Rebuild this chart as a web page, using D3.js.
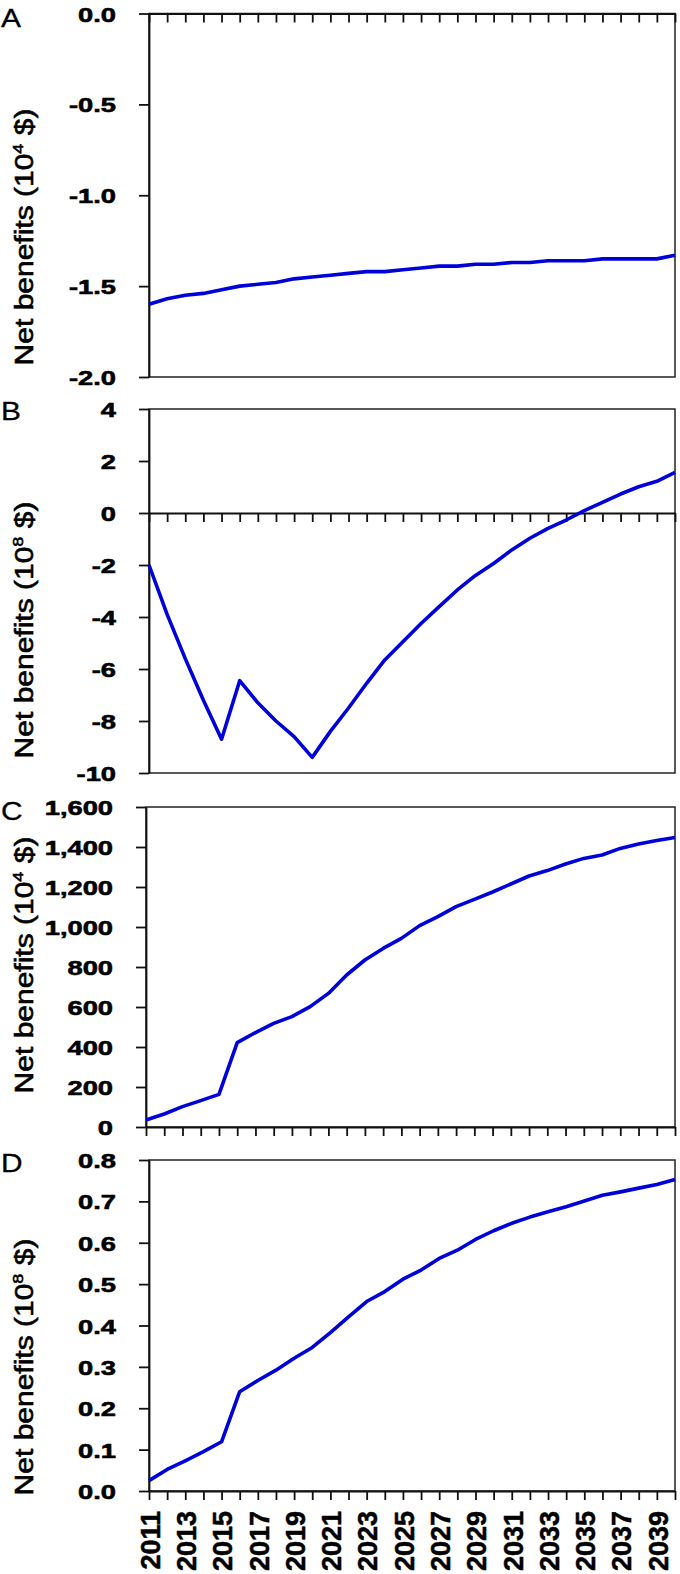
<!DOCTYPE html>
<html>
<head>
<meta charset="utf-8">
<script src="https://cdn.jsdelivr.net/npm/d3@7"></script>
<style>
  body { margin: 0; background: #fff; }
  svg { display: block; font-family: "Liberation Sans", Arial, sans-serif; }
</style>
</head>
<body>
<div id="chart"></div>
<script>
const years = d3.range(2011, 2041);

// Panel A: net benefits (10^4 $)
const seriesA = [-1.60, -1.57, -1.55, -1.54, -1.52, -1.50, -1.49, -1.48, -1.46, -1.45,
  -1.44, -1.43, -1.42, -1.42, -1.41, -1.40, -1.39, -1.39, -1.38, -1.38,
  -1.37, -1.37, -1.36, -1.36, -1.36, -1.35, -1.35, -1.35, -1.35, -1.33];
// Panel B: net benefits (10^8 $)
const seriesB = [-2.0, -3.9, -5.6, -7.2, -8.7, -6.45, -7.3, -8.0, -8.6, -9.4,
  -8.4, -7.5, -6.55, -5.65, -4.95, -4.25, -3.6, -2.96, -2.4, -1.94,
  -1.42, -0.97, -0.59, -0.27, 0.09, 0.41, 0.73, 1.01, 1.22, 1.56];
// Panel C: net benefits (10^4 $)
const seriesC = [35, 65, 102, 132, 163, 422, 472, 518, 552, 602,
  668, 760, 835, 893, 943, 1007, 1052, 1102, 1138, 1175,
  1215, 1255, 1282, 1315, 1343, 1360, 1393, 1415, 1432, 1448];
// Panel D: net benefits (10^8 $)
const seriesD = [0.025, 0.052, 0.073, 0.095, 0.119, 0.240, 0.267, 0.292, 0.321, 0.347,
  0.383, 0.421, 0.458, 0.482, 0.512, 0.534, 0.562, 0.582, 0.608, 0.629,
  0.647, 0.662, 0.675, 0.687, 0.701, 0.715, 0.723, 0.732, 0.741, 0.753];

const ticksA = [0, -0.5, -1.0, -1.5, -2.0];
const ticksB = [4, 2, 0, -2, -4, -6, -8, -10];
const ticksC = [0, 200, 400, 600, 800, 1000, 1200, 1400, 1600];
const ticksD = [0, 0.1, 0.2, 0.3, 0.4, 0.5, 0.6, 0.7, 0.8];

const loc = d3.formatLocale({ decimal: '.', thousands: ',', grouping: [3], currency: ['$', ''], minus: '-' });

const panels = [
  { letter: 'A', data: seriesA, domain: [-2, 0], ticks: ticksA, fmt: loc.format('.1f'), exp: '4',
    top: 13.5, bottom: 377, left: 149, letterY: 27, labelY: 237 },
  { letter: 'B', data: seriesB, domain: [-10, 4], ticks: ticksB, fmt: loc.format('d'), exp: '8',
    top: 409, bottom: 773, left: 149, letterY: 420, labelY: 630 },
  { letter: 'C', data: seriesC, domain: [0, 1600], ticks: ticksC, fmt: loc.format(','), exp: '4',
    top: 807, bottom: 1127, left: 146, letterY: 820, labelY: 965 },
  { letter: 'D', data: seriesD, domain: [0, 0.8], ticks: ticksD, fmt: loc.format('.1f'), exp: '8',
    top: 1160, bottom: 1491, left: 149, letterY: 1172, labelY: 1367, yearAxis: true },
];

const W = 680, H = 1574, right = 675;
const blue = '#0000d8';

const svg = d3.select('#chart').append('svg')
  .attr('width', W)
  .attr('height', H);

panels.forEach(p => {
  const x = d3.scaleLinear().domain([2011, 2040]).range([p.left, right]);
  const y = d3.scaleLinear().domain(p.domain).range([p.bottom, p.top]);

  // plot box
  svg.append('rect')
    .attr('x', p.left).attr('y', p.top)
    .attr('width', right - p.left).attr('height', p.bottom - p.top)
    .attr('fill', 'none')
    .attr('stroke', '#222')
    .attr('stroke-width', 1.5);

  // y axis
  const gy = svg.append('g')
    .attr('transform', `translate(${p.left},0)`)
    .call(d3.axisLeft(y).tickValues(p.ticks).tickFormat(p.fmt).tickSize(10).tickSizeOuter(0));
  gy.select('.domain').attr('stroke', '#111').attr('stroke-width', 1.8);
  gy.selectAll('.tick line').attr('stroke', '#111').attr('stroke-width', 1.8);
  gy.selectAll('.tick text')
    .attr('x', 0)
    .attr('dy', '0.36em')
    .attr('transform', 'translate(-33,0) scale(1.3,1)')
    .attr('font-size', 21)
    .attr('font-weight', 'bold')
    .attr('fill', '#000')
    .attr('stroke', '#000')
    .attr('stroke-width', 0.6)
    .attr('font-family', '"Liberation Sans", Arial, sans-serif');

  // x axis at zero (or bottom edge)
  const x0 = y(Math.max(p.domain[0], Math.min(0, p.domain[1])));
  const gx = svg.append('g')
    .attr('transform', `translate(0,${x0})`)
    .call(d3.axisBottom(x).tickValues(years).tickSize(9).tickSizeOuter(0)
      .tickFormat(d => (p.yearAxis && d % 2 === 1) ? d : ''));
  gx.select('.domain').attr('stroke', '#111').attr('stroke-width', 1.8);
  gx.selectAll('.tick line').attr('stroke', '#111').attr('stroke-width', 1.8);
  gx.selectAll('.tick text')
    .attr('transform', 'rotate(-90)')
    .attr('x', -20)
    .attr('y', 0)
    .attr('dy', '0.38em')
    .attr('text-anchor', 'end')
    .attr('font-size', 27)
    .attr('font-weight', 'bold')
    .attr('fill', '#000')
    .attr('stroke', '#000')
    .attr('stroke-width', 0.5)
    .attr('font-family', '"Liberation Sans", Arial, sans-serif');

  // series line
  svg.append('path')
    .datum(p.data)
    .attr('fill', 'none')
    .attr('stroke', blue)
    .attr('stroke-width', 3.6)
    .attr('stroke-linejoin', 'round')
    .attr('d', d3.line().x((d, i) => x(years[i])).y(d => y(d)));

  // panel letter
  svg.append('text')
    .attr('transform', `translate(1,${p.letterY}) scale(1.15,1)`)
    .attr('font-size', 26)
    .attr('fill', '#000')
    .attr('stroke', '#000')
    .attr('stroke-width', 0.3)
    .text(p.letter);

  // y axis title
  const t = svg.append('text')
    .attr('transform', `translate(33,${p.labelY}) rotate(-90) scale(1.2,1)`)
    .attr('text-anchor', 'middle')
    .attr('font-size', 25)
    .attr('fill', '#000')
    .attr('stroke', '#000')
    .attr('stroke-width', 0.6);
  t.append('tspan').text('Net benefits (10');
  t.append('tspan').attr('font-size', 15).attr('dy', -10).text(p.exp);
  t.append('tspan').attr('dy', 10).text(' $)');
});
</script>
</body>
</html>
